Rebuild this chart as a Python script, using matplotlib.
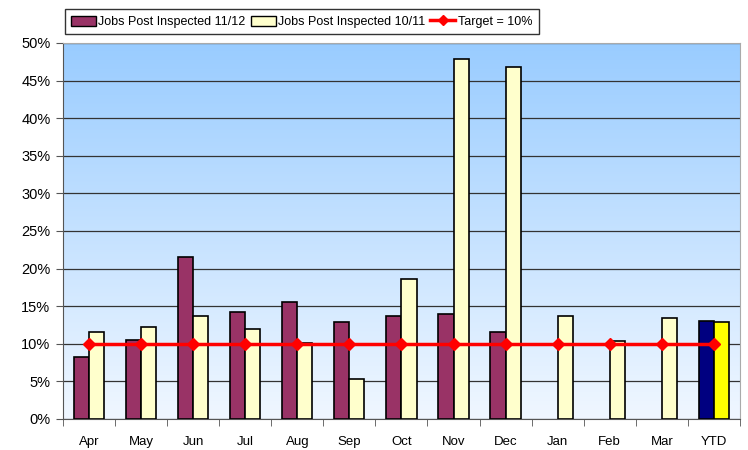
import numpy as np
import matplotlib.pyplot as plt
from matplotlib.lines import Line2D
from matplotlib.patches import Patch
from matplotlib.colors import LinearSegmentedColormap

months = ['Apr', 'May', 'Jun', 'Jul', 'Aug', 'Sep', 'Oct', 'Nov', 'Dec',
          'Jan', 'Feb', 'Mar', 'YTD']
jobs_1112 = [8.2, 10.5, 21.5, 14.2, 15.6, 12.9, 13.7, 14.0, 11.6,
             np.nan, np.nan, np.nan, 13.0]
jobs_1011 = [11.6, 12.2, 13.7, 12.0, 10.1, 5.3, 18.6, 47.9, 46.8,
             13.7, 10.4, 13.4, 12.9]
target = [10] * 13

fig = plt.figure(figsize=(7.48, 4.5), dpi=100)
ax = fig.add_axes([0.0842, 0.0689, 0.905, 0.8356])

x = np.arange(len(months))
w = 0.29
c1 = ['#993366'] * 12 + ['#000080']
c2 = ['#FFFFCC'] * 12 + ['#FFFF00']
ax.bar(x - w / 2, jobs_1112, w, color=c1, edgecolor='black', linewidth=1.2, zorder=3)
ax.bar(x + w / 2, jobs_1011, w, color=c2, edgecolor='black', linewidth=1.2, zorder=3)
ax.plot(x, target, color='#FF0000', linewidth=2.5, marker='D', markersize=6, zorder=4)

# gradient background
cmap = LinearSegmentedColormap.from_list('bg', ['#F0F7FF', '#99CCFF'])
grad = np.linspace(0, 1, 256).reshape(-1, 1)
ax.imshow(grad, cmap=cmap, aspect='auto', origin='lower',
          extent=[0, 1, 0, 1], transform=ax.transAxes, zorder=0)

ax.set_xlim(-0.5, 12.5)
ax.set_ylim(0, 50)
ax.set_yticks(range(0, 51, 5))
ax.set_yticklabels([f'{v}%' for v in range(0, 51, 5)], fontsize=10.5,
                   family='Liberation Sans')
ax.yaxis.grid(True, color='#333333', linewidth=0.9)
for gl in ax.get_ygridlines():
    gl.set_zorder(1)

ax.set_xticks(x)
ax.set_xticklabels(months, fontsize=9.5, family='Liberation Sans')
ax.set_xticks(np.arange(-0.5, 13, 1), minor=True)
ax.tick_params(axis='x', which='major', length=0, pad=12)
ax.tick_params(axis='x', which='minor', length=5, color='#555555')
ax.tick_params(axis='y', length=5, color='#555555', pad=4)

for s in ['top', 'right']:
    ax.spines[s].set_color('#AAAAAA')
ax.spines['left'].set_color('#555555')
ax.spines['bottom'].set_color('#555555')

handles = [Patch(facecolor='#993366', edgecolor='black'),
           Patch(facecolor='#FFFFCC', edgecolor='black'),
           Line2D([], [], color='#FF0000', linewidth=2.5, marker='D', markersize=5)]
labels = ['Jobs Post Inspected 11/12', 'Jobs Post Inspected 10/11', 'Target = 10%']
leg = fig.legend(handles, labels, loc='upper left', bbox_to_anchor=(0.083, 0.985),
                 ncol=3, frameon=True, fancybox=False, edgecolor='black',
                 prop={'family': 'Liberation Sans', 'size': 9},
                 handlelength=2.0, handleheight=0.9, handletextpad=0.2,
                 columnspacing=0.4, borderpad=0.5, borderaxespad=0.2)
leg.get_frame().set_linewidth(1.0)

fig.savefig('out.png', dpi=100)
